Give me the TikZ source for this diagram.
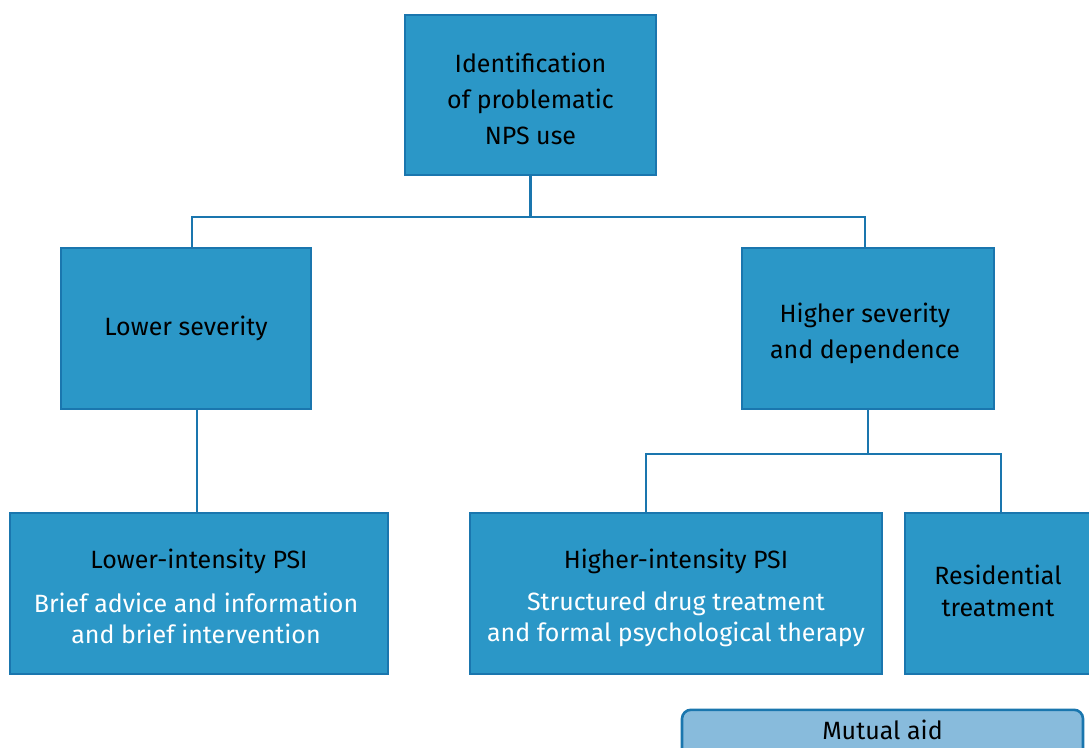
\documentclass[tikz,border=0pt]{standalone}
\usepackage{fontspec}
\setmainfont{Fira Sans}
\usepackage{tikz}
\usetikzlibrary{positioning}
\definecolor{boxfill}{HTML}{2B97C7}
\definecolor{boxline}{HTML}{1A76AE}
\definecolor{aidfill}{HTML}{88BBDC}

\begin{document}
\begin{tikzpicture}[x = 1pt, y = 1pt,
  font = \fontsize{25}{36}\selectfont,
  stage/.style = {draw = boxline, fill = boxfill, line width = 2.6pt, align = center, inner sep = 0pt},
  aid/.style = {draw = boxline, fill = aidfill, line width = 2.6pt, rounded corners = 9pt, align = center, inner sep = 0pt},
  link/.style = {draw = boxline, line width = 2.6pt},
  tight/.style = {align = center, font = \fontsize{25}{#1}\selectfont},
  body/.style = {tight = 31, text = white}]
 \useasboundingbox (0, 0) rectangle (1089, 747);
  \node[stage, minimum width = 251, minimum height = 160] (ident) at (530.5, 652) {};
  \node[stage, minimum width = 250, minimum height = 161] (lowsev) at (186, 418.5) {Lower severity};
  \node[stage, minimum width = 252, minimum height = 161] (highsev) at (868, 418.5) {};
  \node[stage, minimum width = 378, minimum height = 161] (lowpsi) at (199, 153.5) {};
  \node[stage, minimum width = 412, minimum height = 161] (highpsi) at (676, 153.5) {};
  \node[stage, minimum width = 188, minimum height = 161] (resid) at (999, 153.5) {};
  \node[aid, anchor = north, minimum width = 401, minimum height = 60, text height = 18, text depth = 18] (mutual) at (882.5, 38.5) {Mutual aid};
  % texts placed on their own
  \node[align = center] (identtext) at (530.5, 648.5) {Identification\\of problematic\\NPS use};
  \node[align = center] (highsevtext) at (865, 414) {Higher severity\\and dependence};
  \node (lowtitle) at (199, 186) {Lower-intensity PSI};
  \node[body] (lowbody) at (196, 129) {Brief advice and information\\and brief intervention};
  \node (hightitle) at (676, 186) {Higher-intensity PSI};
  \node[body] (highbody) at (676, 128) {Structured drug treatment\\and formal psychological therapy};
  \node[tight = 32] (residtext) at (998, 156) {Residential\\treatment};
  \coordinate (top) at (530.5, 530);
  \coordinate (split) at (868, 293);
  \coordinate (lowdrop) at ([xshift = -2]lowpsi.north);
  \draw[link] (ident) -- (top);
  \draw[link] ([xshift = 6]lowsev.north) |- (top) -| ([xshift = -3]highsev.north);
  \draw[link] (lowsev.south -| lowdrop) -- (lowdrop);
  \draw[link] (highsev) -- (split);
  \draw[link] ([xshift = -30]highpsi.north) |- (split) -| ([xshift = 2]resid.north);
 \end{tikzpicture}
\end{document}
